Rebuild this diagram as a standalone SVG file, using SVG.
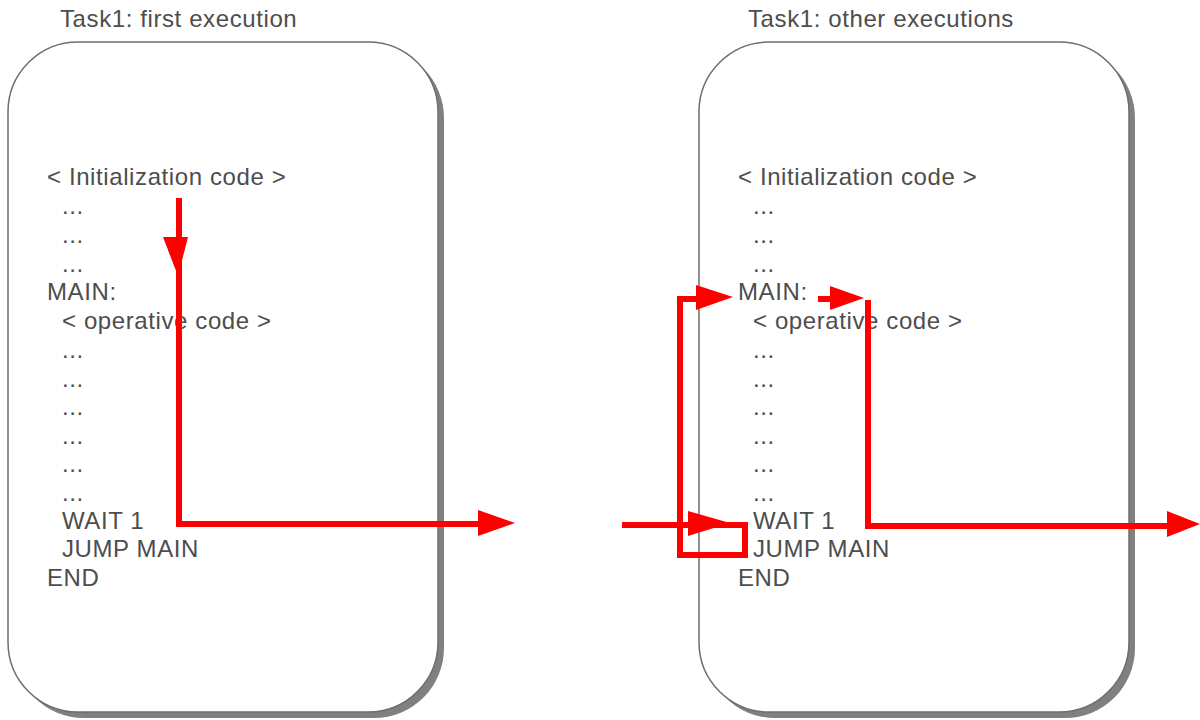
<svg xmlns="http://www.w3.org/2000/svg" width="1200" height="720" viewBox="0 0 1200 720">
  <style>
    text { font-family: "Liberation Sans", Arial, sans-serif; font-size: 24px; letter-spacing: 0.6px; fill: #4d4d4d; }
    .shadow { fill: #808080; }
    .frame { fill: #ffffff; stroke: #6e6e6e; stroke-width: 1.5; }
    .flow { fill: none; stroke: #ff0000; stroke-width: 6; stroke-linejoin: miter; }
    .head { fill: #ff0000; }
  </style>
  <rect width="1200" height="720" fill="#ffffff"/>

  <!-- Task box: first execution -->
  <g id="task-first">
    <text x="60" y="27">Task1: first execution</text>
    <rect class="shadow" x="14" y="48" width="430" height="670" rx="70" ry="70"/>
    <rect class="frame" x="8" y="42" width="430" height="670" rx="70" ry="70"/>
    <text x="47" y="185">&lt; Initialization code &gt;</text>
    <text x="62" y="214">...</text>
    <text x="62" y="243">...</text>
    <text x="62" y="272">...</text>
    <text x="47" y="300">MAIN:</text>
    <text x="62" y="329">&lt; operative code &gt;</text>
    <text x="62" y="358">...</text>
    <text x="62" y="387">...</text>
    <text x="62" y="415">...</text>
    <text x="62" y="444">...</text>
    <text x="62" y="472">...</text>
    <text x="62" y="501">...</text>
    <text x="62" y="529">WAIT 1</text>
    <text x="62" y="557">JUMP MAIN</text>
    <text x="47" y="586">END</text>
  </g>

  <!-- Task box: other executions -->
  <g id="task-other">
    <text x="748" y="27">Task1: other executions</text>
    <rect class="shadow" x="705" y="48" width="430" height="670" rx="70" ry="70"/>
    <rect class="frame" x="699" y="42" width="430" height="670" rx="70" ry="70"/>
    <text x="738" y="185">&lt; Initialization code &gt;</text>
    <text x="753" y="214">...</text>
    <text x="753" y="243">...</text>
    <text x="753" y="272">...</text>
    <text x="738" y="300">MAIN:</text>
    <text x="753" y="329">&lt; operative code &gt;</text>
    <text x="753" y="358">...</text>
    <text x="753" y="387">...</text>
    <text x="753" y="415">...</text>
    <text x="753" y="444">...</text>
    <text x="753" y="472">...</text>
    <text x="753" y="501">...</text>
    <text x="753" y="529">WAIT 1</text>
    <text x="753" y="557">JUMP MAIN</text>
    <text x="738" y="586">END</text>
  </g>

  <!-- Execution flow -->
  <g id="connectors">
    <!-- first run: down through init, out after WAIT -->
    <path class="flow" d="M179,198 V524 H480"/>
    <polygon class="head" points="163,237 188,237 178,276"/>
    <polygon class="head" points="478,510 478,536 515,523"/>

    <!-- later runs: enter at WAIT, loop back to MAIN -->
    <path class="flow" d="M622,525 H745 V555 H680 V299 H700"/>
    <polygon class="head" points="688,511 688,536 730,523"/>
    <polygon class="head" points="696,285 696,310 733,297"/>

    <!-- from MAIN through operative code, out after WAIT -->
    <path class="flow" d="M818,299 H834"/>
    <polygon class="head" points="830,286 830,310 864,298"/>
    <path class="flow" d="M868,300 V526 H1170"/>
    <polygon class="head" points="1167,511 1167,537 1200,524"/>
  </g>
</svg>
